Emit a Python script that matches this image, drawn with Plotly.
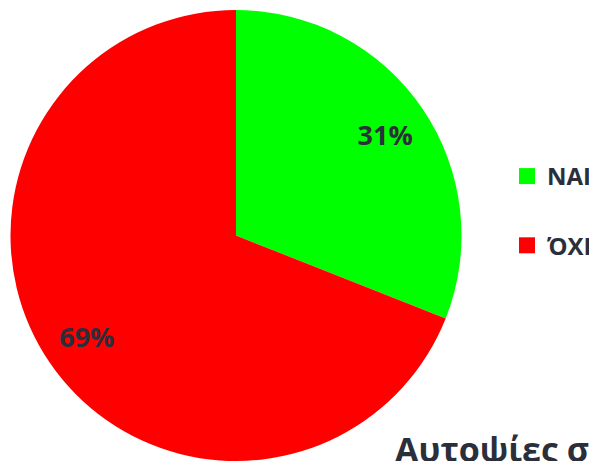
import plotly.graph_objects as go

labels = ["NAI", "ΌΧΙ"]
values = [31, 69]
colors = ["#00ff00", "#ff0000"]
title_text = "Αυτοψίες σ"

# the page body adds an 8px margin, so the figure fills the rest of the window
W, H = 589, 453
text_color = "#2b2f3a"
font_family = "Open Sans"
domain = dict(x=[2.5 / W, 453.5 / W], y=[0, 451 / H])

fig = go.Figure()
# filled pie
fig.add_trace(go.Pie(
    labels=labels, values=values,
    marker=dict(colors=colors, line=dict(width=0)),
    sort=False, direction="clockwise", rotation=0,
    textinfo="none", domain=domain, showlegend=False,
    hoverinfo="label+percent",
))
# transparent ring carrying the percentage labels
fig.add_trace(go.Pie(
    labels=labels, values=values, hole=0.6,
    marker=dict(colors=["rgba(0,0,0,0)"] * len(values), line=dict(width=0)),
    sort=False, direction="clockwise", rotation=0,
    texttemplate="%{percent:.0%}", textposition="inside",
    insidetextorientation="horizontal",
    insidetextfont=dict(family=font_family, size=27, color=text_color, weight="bold"),
    domain=domain, showlegend=False, hoverinfo="skip",
))
# legend entries
for lab, col in zip(labels, colors):
    fig.add_trace(go.Scatter(
        x=[None], y=[None], mode="markers", name=lab, legendgroup=lab,
        marker=dict(symbol="square", size=18, color=col),
        showlegend=True,
    ))

fig.update_layout(
    width=W, height=H,
    margin=dict(l=0, r=0, t=0, b=0, autoexpand=False),
    paper_bgcolor="white", plot_bgcolor="white",
    xaxis=dict(visible=False), yaxis=dict(visible=False),
    showlegend=True,
    legend=dict(
        x=1, y=(H - 146) / H, xanchor="right", yanchor="top",
        font=dict(family=font_family, size=24, color=text_color, weight="bold"),
        tracegroupgap=35, itemsizing="trace",
        bgcolor="rgba(0,0,0,0)",
    ),
    annotations=[dict(
        text=title_text, xref="paper", yref="paper",
        x=385 / W, y=-13 / H, xanchor="left", yanchor="bottom",
        showarrow=False,
        font=dict(family=font_family, size=34, color=text_color, weight="bold"),
    )],
)

fig.write_html("out.html")
